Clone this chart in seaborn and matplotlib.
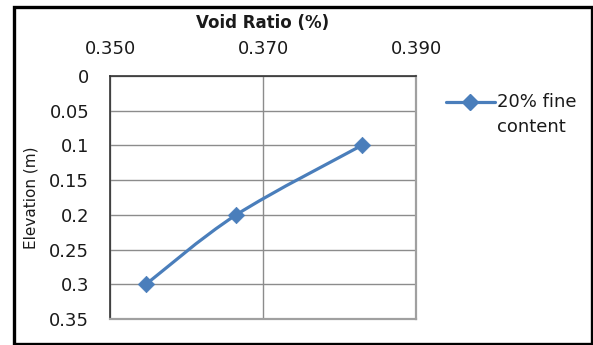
import matplotlib
matplotlib.use("Agg")
import matplotlib.pyplot as plt
from matplotlib.path import Path
from matplotlib.patches import PathPatch, Rectangle
from matplotlib.lines import Line2D
from matplotlib.legend_handler import HandlerLine2D
from matplotlib.transforms import Affine2D
import numpy as np
import pandas as pd
import seaborn as sns

# Void ratio against depth for the 20% fine content sample
void_ratio = [0.3547, 0.3665, 0.3829]
elevation = [0.30, 0.20, 0.10]
series_label = "20% fine\ncontent"
x_ticks = [0.350, 0.370, 0.390]
y_ticks = [0, 0.05, 0.1, 0.15, 0.2, 0.25, 0.3, 0.35]
y_tick_labels = ["0", "0.05", "0.1", "0.15", "0.2", "0.25", "0.3", "0.35"]

sns.set_theme(style="white")
plt.rcParams["font.family"] = ["DejaVu Sans"]

LINE_BLUE = "#4A7EBB"
GRID_GRAY = "#8C8C8C"
TEXT = "#1a1a1a"
FS = 13

df = pd.DataFrame({"void_ratio": void_ratio, "elevation": elevation})

W, H = 593, 345
fig = plt.figure(figsize=(W / 100, H / 100), dpi=100)
ax = fig.add_axes([110 / W, (H - 319) / H, (416 - 110) / W, (319 - 76) / H])

# Smoothed connecting curve (Catmull-Rom converted to cubic Bezier segments)
pts = np.column_stack([void_ratio, elevation])
verts = [tuple(pts[0])]
codes = [Path.MOVETO]
n = len(pts)
for i in range(n - 1):
    p_prev = pts[max(i - 1, 0)]
    p0 = pts[i]
    p1 = pts[i + 1]
    p_next = pts[min(i + 2, n - 1)]
    c1 = p0 + (p1 - p_prev) / 6.0
    c2 = p1 - (p_next - p0) / 6.0
    verts += [tuple(c1), tuple(c2), tuple(p1)]
    codes += [Path.CURVE4] * 3
ax.add_patch(PathPatch(Path(verts, codes), facecolor="none",
                       edgecolor=LINE_BLUE, lw=2.3, zorder=3,
                       capstyle="round", joinstyle="round"))

sns.scatterplot(data=df, x="void_ratio", y="elevation", marker="D", s=70,
                color=LINE_BLUE, edgecolor=LINE_BLUE, linewidth=0.5,
                zorder=4, ax=ax, legend=False)

ax.set_xlim(0.350, 0.390)
ax.set_ylim(0.35, 0)
ax.set_xticks(x_ticks)
ax.set_xticklabels([f"{v:.3f}" for v in x_ticks])
ax.set_yticks(y_ticks)
ax.set_yticklabels(y_tick_labels)
ax.xaxis.tick_top()
ax.xaxis.set_label_position("top")
ax.tick_params(axis="x", length=0, pad=13, labelsize=FS, labelcolor=TEXT)
ax.tick_params(axis="y", length=0, pad=15, labelsize=FS, labelcolor=TEXT)

ax.grid(True, color=GRID_GRAY, lw=1.0)
ax.set_axisbelow(True)
for side in ["top", "left"]:
    ax.spines[side].set_color("#333333")
    ax.spines[side].set_linewidth(1.2)
for side in ["right", "bottom"]:
    ax.spines[side].set_color("#A0A0A0")
    ax.spines[side].set_linewidth(1.6)

ax.set_xlabel("Void Ratio (%)", fontsize=12, fontweight="bold",
              color=TEXT, labelpad=8.5)
ax.set_ylabel("Elevation (m)", fontsize=11, color=TEXT, labelpad=8)


class FirstLineHandler(HandlerLine2D):
    """Line handle aligned with the first line of a two-line label."""

    def create_artists(self, legend, orig_handle, xdescent, ydescent,
                       width, height, fontsize, trans):
        artists = super().create_artists(legend, orig_handle, xdescent,
                                         ydescent, width, height, fontsize,
                                         trans)
        shift = Affine2D().translate(0, 13)
        for a in artists:
            a.set_transform(trans + shift)
        return artists


handle = Line2D([], [], color=LINE_BLUE, lw=2.3, marker="D", markersize=8)
leg = fig.legend([handle], [series_label], loc="upper left",
                 bbox_to_anchor=(437 / W, 1 - 84 / H), frameon=False,
                 fontsize=FS, handlelength=2.7, handletextpad=0.15,
                 borderpad=0, labelcolor=TEXT,
                 handler_map={Line2D: FirstLineHandler()})
for t in leg.get_texts():
    t.set_linespacing(1.5)

# Outer chart border
fig.add_artist(Rectangle((13.5 / W, 1.5 / H), (W - 15) / W, (H - 8) / H,
                         transform=fig.transFigure, fill=False,
                         edgecolor="black", lw=2.4))

fig.savefig("out.png", dpi=100)
